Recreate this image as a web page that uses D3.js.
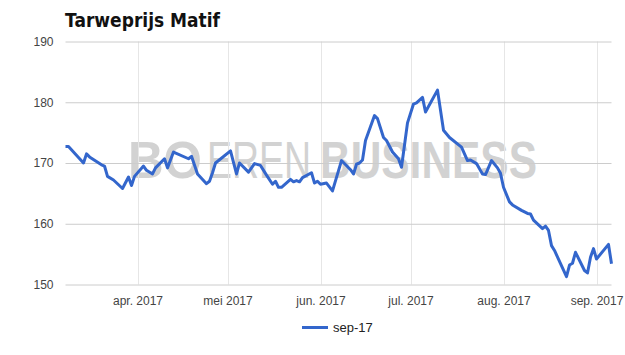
<!DOCTYPE html>
<html><head><meta charset="utf-8">
<script src="https://cdn.jsdelivr.net/npm/d3@7"></script>
<style>
html,body{margin:0;padding:0;background:#fff;}
svg{display:block;}
</style></head>
<body>
<svg id="chart" width="625" height="355"></svg>
<script>
const title = "Tarweprijs Matif";
const seriesName = "sep-17";
const dates = [
"2017-03-08","2017-03-09","2017-03-14","2017-03-15","2017-03-16","2017-03-20","2017-03-21","2017-03-22","2017-03-24","2017-03-27",
"2017-03-29","2017-03-30","2017-03-31","2017-04-03","2017-04-04","2017-04-06","2017-04-07","2017-04-10","2017-04-11","2017-04-13",
"2017-04-18","2017-04-19","2017-04-21","2017-04-24","2017-04-25","2017-04-26","2017-04-27","2017-05-02","2017-05-04","2017-05-05",
"2017-05-08","2017-05-10","2017-05-12","2017-05-14","2017-05-16","2017-05-17","2017-05-18","2017-05-19","2017-05-22","2017-05-23",
"2017-05-24","2017-05-25","2017-05-26","2017-05-29","2017-05-30","2017-05-31","2017-06-01","2017-06-03","2017-06-05","2017-06-08",
"2017-06-11","2017-06-12","2017-06-13","2017-06-14","2017-06-15","2017-06-16","2017-06-19","2017-06-20","2017-06-22","2017-06-23",
"2017-06-25","2017-06-27","2017-06-28","2017-06-30","2017-07-02","2017-07-03","2017-07-05","2017-07-06","2017-07-07","2017-07-10",
"2017-07-12","2017-07-14","2017-07-18","2017-07-20","2017-07-21","2017-07-23","2017-07-25","2017-07-26","2017-07-28","2017-07-30",
"2017-07-31","2017-08-01","2017-08-02","2017-08-03","2017-08-04","2017-08-07","2017-08-09","2017-08-10","2017-08-11","2017-08-14",
"2017-08-15","2017-08-16","2017-08-17","2017-08-18","2017-08-22","2017-08-23","2017-08-24","2017-08-25","2017-08-28","2017-08-29",
"2017-08-30","2017-08-31","2017-09-01","2017-09-05","2017-09-06"];
const values = [
172.7,172.7,170.0,171.5,171.0,169.7,169.5,167.8,167.2,165.8,
167.7,166.3,167.8,169.5,168.8,168.2,169.2,170.7,169.2,171.8,
170.7,171.1,168.2,166.6,167.0,168.4,170.0,172.0,168.2,170.0,
168.5,169.9,169.6,168.0,166.5,167.0,166.0,166.0,167.3,166.9,
167.1,166.9,167.6,168.4,166.7,167.0,166.5,166.7,165.4,170.4,
168.9,168.2,169.8,170.0,170.5,173.7,177.8,177.3,174.2,173.7,
171.8,170.7,169.3,176.6,179.7,179.9,180.8,178.4,179.3,182.0,
175.4,174.2,172.6,170.4,170.5,169.9,168.2,168.1,170.4,169.2,
168.3,166.0,164.8,163.6,163.1,162.2,161.7,161.6,160.6,159.2,
159.6,158.9,156.4,155.6,151.3,153.2,153.5,155.3,152.3,151.9,
154.5,155.9,154.2,156.6,153.4];
const yTicks = [150,160,170,180,190];
const monthTicks = ["2017-04-01","2017-05-01","2017-06-01","2017-07-01","2017-08-01","2017-09-01"];
const monthLabels = ["apr. 2017","mei 2017","jun. 2017","jul. 2017","aug. 2017","sep. 2017"];
const watermarkParts = ["BO","EREN","BUSINESS"];

const parse = d3.timeParse("%Y-%m-%d");
const data = dates.map((d,i)=>({date:parse(d), value:values[i]}));
const svg = d3.select("#chart");
const L = 65.5, R = 611.5, T = 41.5, B = 284.5;

const x = d3.scaleTime().domain(d3.extent(data, d=>d.date)).range([L, R]);
const y = d3.scaleLinear().domain([150,190]).range([B, T]);

// watermark: each piece sized to its width, then stretched vertically to a common height
const wmX = [128, 207, 320], wmLen = [74, 104, 217], wmW = ["bold","normal","bold"];
const capTarget = 52;
watermarkParts.forEach((p,i)=>{
  const t = svg.append("text")
    .attr("font-family", "'Liberation Sans', Arial, sans-serif")
    .attr("font-weight", wmW[i])
    .attr("font-size", 40)
    .attr("fill", "#d2d2d2")
    .text(p);
  const w = t.node().getComputedTextLength();
  const fs = 40 * wmLen[i] / w;
  t.attr("font-size", fs)
   .attr("transform", `translate(${wmX[i]},178) scale(1,${capTarget/fs})`);
});

// vertical gridlines
svg.append("g").selectAll("line").data(monthTicks.map(parse)).join("line")
  .attr("x1", d=>Math.round(x(d))+0.5).attr("x2", d=>Math.round(x(d))+0.5)
  .attr("y1", T).attr("y2", B)
  .attr("stroke", "#e6e6e6").attr("stroke-width", 1);

// horizontal gridlines via axis
const yAxis = d3.axisLeft(y).tickValues(yTicks).tickSize(-(R-L)).tickFormat(d3.format("d"));
const gy = svg.append("g").attr("transform", `translate(${L},0)`).call(yAxis);
gy.select(".domain").remove();
gy.selectAll(".tick line").attr("stroke", "#cccccc");
gy.selectAll(".tick text").attr("x", -12).attr("fill", "#444")
  .attr("font-family", "'Liberation Sans', Arial, sans-serif").attr("font-size", 12);

// x axis labels
const xAxis = d3.axisBottom(x).tickValues(monthTicks.map(parse)).tickSize(0)
  .tickFormat((d,i)=>monthLabels[i]);
const gx = svg.append("g").attr("transform", `translate(0,${B})`).call(xAxis);
gx.select(".domain").remove();
gx.selectAll(".tick text").attr("y", 12).attr("dy", "0.71em").attr("fill", "#444")
  .attr("font-family", "'Liberation Sans', Arial, sans-serif").attr("font-size", 12);

// line
const line = d3.line().x(d=>x(d.date)).y(d=>y(d.value));
svg.append("path").datum(data).attr("d", line)
  .attr("fill", "none").attr("stroke", "#3366cc").attr("stroke-width", 3)
  .attr("stroke-linejoin", "round");

// title
svg.append("text").attr("x", 65).attr("y", 27)
  .attr("font-family", "'DejaVu Sans', Verdana, sans-serif").attr("font-weight", "bold")
  .attr("font-size", 19).attr("fill", "#111")
  .attr("textLength", 155).attr("lengthAdjust", "spacingAndGlyphs")
  .text(title);

// legend
svg.append("line").attr("x1", 302).attr("x2", 328).attr("y1", 327.5).attr("y2", 327.5)
  .attr("stroke", "#3366cc").attr("stroke-width", 3);
svg.append("text").attr("x", 333).attr("y", 332)
  .attr("font-family", "'Liberation Sans', Arial, sans-serif").attr("font-size", 13)
  .attr("fill", "#222").text(seriesName);
</script>
</body></html>
